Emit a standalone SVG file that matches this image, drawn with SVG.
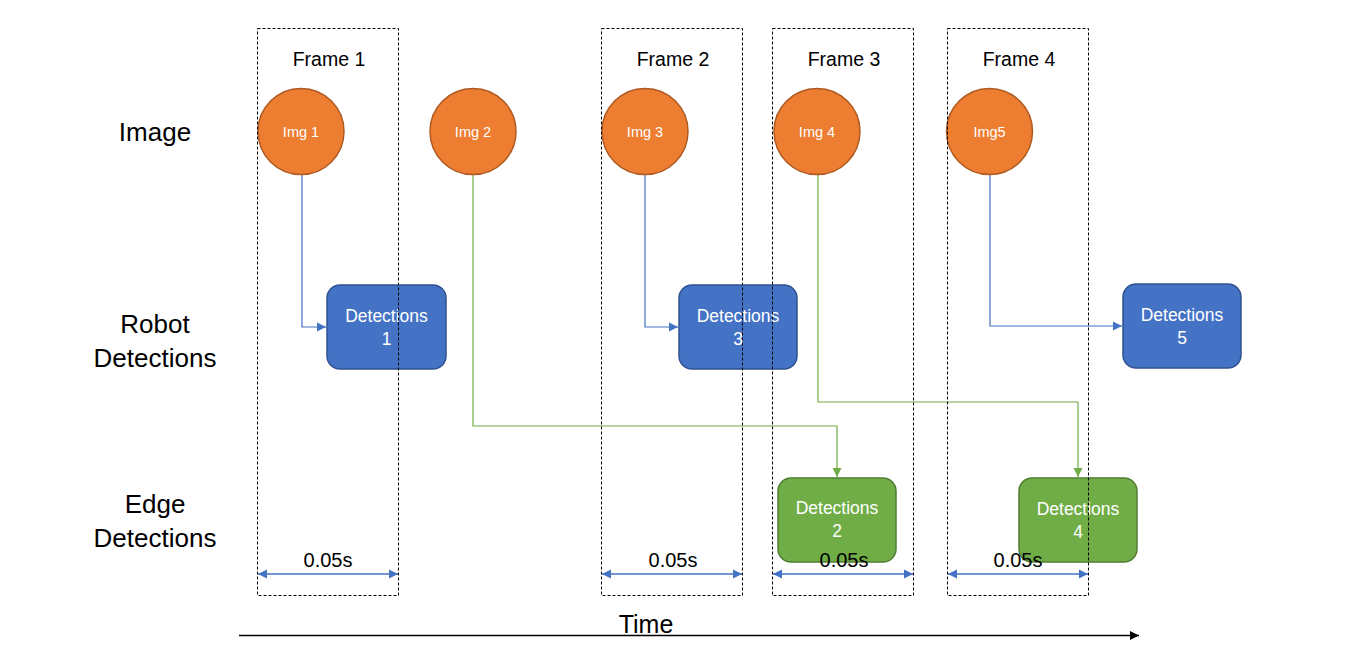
<svg xmlns="http://www.w3.org/2000/svg" width="1361" height="664" viewBox="0 0 1361 664">
<style>
text{font-family:"Liberation Sans",Arial,sans-serif;text-anchor:middle}
.lbl{font-size:26px;fill:#000}
.tm{font-size:25px;fill:#000}
.ft{font-size:19.5px;fill:#000}
.img{fill:#ED7D31;stroke:#AE5A21;stroke-width:1.5}
.it{font-size:14.5px;fill:#fff}
.rb{fill:#4472C4;stroke:#2F528F;stroke-width:1.5}
.eb{fill:#70AD47;stroke:#507E32;stroke-width:1.5}
.bt{font-size:17.5px;fill:#fff}
.cb{fill:none;stroke:#4472C4;stroke-width:1.2}
.cg{fill:none;stroke:#70AD47;stroke-width:1.2}
.fr{fill:none;stroke:#000;stroke-width:1;stroke-dasharray:3 2}
.dim{stroke:#4472C4;stroke-width:1.5}
.dt{font-size:20px;fill:#000}
</style>
<defs>
<marker id="ab" markerWidth="10" markerHeight="10" refX="9" refY="5" orient="auto" markerUnits="userSpaceOnUse"><path d="M0,0.5 L9,5 L0,9.5z" fill="#4472C4"/></marker>
<marker id="ag" markerWidth="10" markerHeight="10" refX="9" refY="5" orient="auto" markerUnits="userSpaceOnUse"><path d="M0,0.5 L9,5 L0,9.5z" fill="#70AD47"/></marker>
<marker id="ak" markerWidth="10" markerHeight="10" refX="9" refY="5" orient="auto" markerUnits="userSpaceOnUse"><path d="M0,0.5 L9,5 L0,9.5z" fill="#000"/></marker>
<marker id="ad" markerWidth="10" markerHeight="10" refX="9" refY="5" orient="auto-start-reverse" markerUnits="userSpaceOnUse"><path d="M0,0.5 L9,5 L0,9.5z" fill="#4472C4"/></marker>
</defs>
<g id="row-labels">
<text class="lbl" x="155" y="141">Image</text>
<text class="lbl" x="155" y="333">Robot</text>
<text class="lbl" x="155" y="367">Detections</text>
<text class="lbl" x="155" y="513">Edge</text>
<text class="lbl" x="155" y="547">Detections</text>
</g>
<g id="connectors">
<path class="cb" d="M302,175 V327 H326" marker-end="url(#ab)"/>
<path class="cg" d="M473,175 V426 H837 V477" marker-end="url(#ag)"/>
<path class="cb" d="M645,175 V327 H678" marker-end="url(#ab)"/>
<path class="cg" d="M818,175 V402 H1078 V477" marker-end="url(#ag)"/>
<path class="cb" d="M990,175 V326 H1122" marker-end="url(#ab)"/>
</g>
<g id="img1"><circle class="img" cx="301" cy="131.5" r="43"/><text class="it" x="301" y="137">Img 1</text></g>
<g id="img2"><circle class="img" cx="473" cy="131.5" r="43"/><text class="it" x="473" y="137">Img 2</text></g>
<g id="img3"><circle class="img" cx="645" cy="131.5" r="43"/><text class="it" x="645" y="137">Img 3</text></g>
<g id="img4"><circle class="img" cx="817" cy="131.5" r="43"/><text class="it" x="817" y="137">Img 4</text></g>
<g id="img5"><circle class="img" cx="989.5" cy="131.5" r="43"/><text class="it" x="989.5" y="137">Img5</text></g>
<g id="det1"><rect class="rb" x="327" y="285" width="119" height="84" rx="13"/><text class="bt" x="386.5" y="322">Detections</text><text class="bt" x="386.5" y="345">1</text></g>
<g id="det3"><rect class="rb" x="679" y="285" width="118" height="84" rx="13"/><text class="bt" x="738" y="322">Detections</text><text class="bt" x="738" y="345">3</text></g>
<g id="det5"><rect class="rb" x="1123" y="284" width="118" height="84" rx="13"/><text class="bt" x="1182" y="321">Detections</text><text class="bt" x="1182" y="344">5</text></g>
<g id="det2"><rect class="eb" x="778" y="478" width="118" height="84" rx="13"/><text class="bt" x="837" y="514">Detections</text><text class="bt" x="837" y="537">2</text></g>
<g id="det4"><rect class="eb" x="1019" y="478" width="118" height="84" rx="13"/><text class="bt" x="1078" y="515">Detections</text><text class="bt" x="1078" y="538">4</text></g>
<g id="frame1"><rect class="fr" x="257.5" y="28.5" width="141" height="567"/><text class="ft" x="329" y="66">Frame 1</text><line class="dim" x1="258" y1="574" x2="398" y2="574" marker-start="url(#ad)" marker-end="url(#ad)"/><text class="dt" x="328" y="567">0.05s</text></g>
<g id="frame2"><rect class="fr" x="601.5" y="28.5" width="141" height="567"/><text class="ft" x="673" y="66">Frame 2</text><line class="dim" x1="602" y1="574" x2="742" y2="574" marker-start="url(#ad)" marker-end="url(#ad)"/><text class="dt" x="673" y="567">0.05s</text></g>
<g id="frame3"><rect class="fr" x="772.5" y="28.5" width="141" height="567"/><text class="ft" x="844" y="66">Frame 3</text><line class="dim" x1="773" y1="574" x2="913" y2="574" marker-start="url(#ad)" marker-end="url(#ad)"/><text class="dt" x="844" y="567">0.05s</text></g>
<g id="frame4"><rect class="fr" x="947.5" y="28.5" width="141" height="567"/><text class="ft" x="1019" y="66">Frame 4</text><line class="dim" x1="948" y1="574" x2="1088" y2="574" marker-start="url(#ad)" marker-end="url(#ad)"/><text class="dt" x="1018" y="567">0.05s</text></g>
<g id="time-axis"><line x1="239" y1="635.5" x2="1139" y2="635.5" stroke="#000" stroke-width="1.5" marker-end="url(#ak)"/><text class="tm" x="646" y="633">Time</text></g>
</svg>
